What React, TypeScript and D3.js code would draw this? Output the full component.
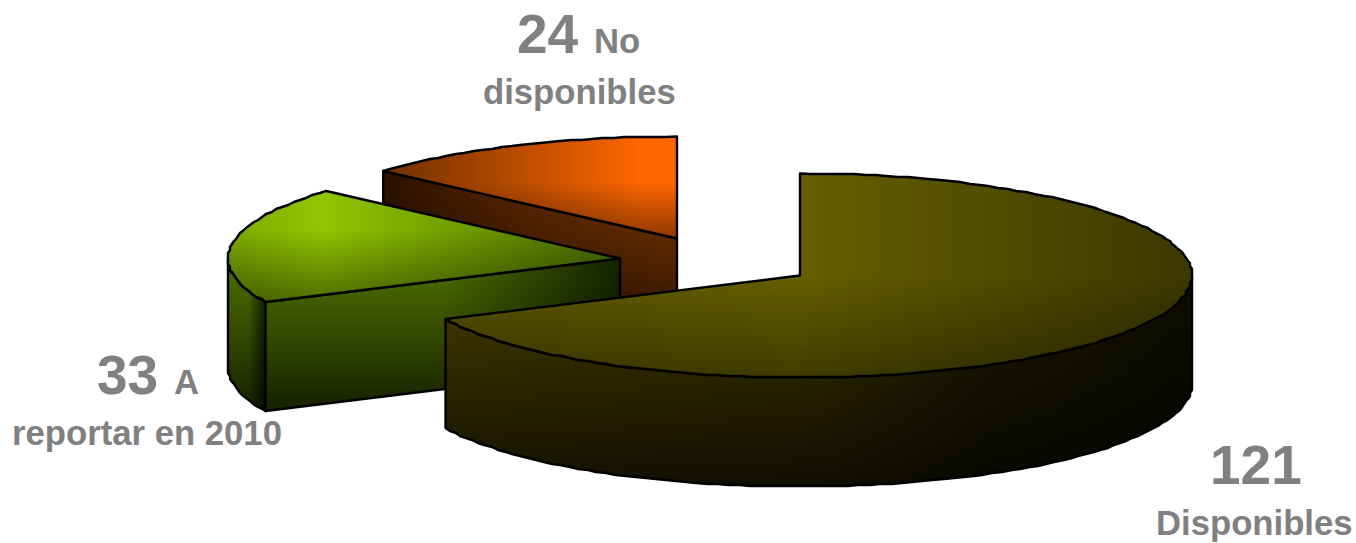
import * as d3 from 'd3';

const WIDTH = 1356;
const HEIGHT = 543;

// chart values, clockwise from 12 o'clock
const sliceNames = ['Disponibles', 'A reportar en 2010', 'No disponibles'];
const sliceValues = [121, 33, 24];

// pie geometry
const RX = 392;
const RY = 102;
const DEPTH = 109;
const sliceCenters: [number, number][] = [[800, 275.5], [620, 258.5], [677, 238.5]];

// base tones for each slice: bright, mid, shade
const topBright = ['#666000', '#90c600', '#ff6600'];
const topEdge = ['#3c3800', '#4a6c00', '#7e3800'];
const wallBright = ['#403900', '#4a6a00', '#7a3400'];
const wallEdge = ['#0e0e00', '#142200', '#2a1000'];
// where the highlight sits across each top face (0..1)
const highlightX = [0.47, 0.24, 0.88];
const shadeY = [0.5, 0.35, 0.45];

const FONT = '"Liberation Sans", Arial, sans-serif';
const GRAY = '#808080';

const pie = d3.pie<number>().sort(null).startAngle(0).endAngle(2 * Math.PI);
const arcs = pie(sliceValues);

// polygon rim, the source picture has a slightly stepped edge
const rim = (c: [number, number], a0: number, a1: number, dy = 0): [number, number][] => {
  const n = Math.max(2, Math.ceil(Math.abs(a1 - a0) / (1.6 * Math.PI / 180)));
  return d3.range(n + 1).map(i => {
    const a = a0 + ((a1 - a0) * i) / n;
    const onEnd = i === 0 || i === n;
    const x = c[0] + RX * Math.sin(a);
    const y = c[1] - RY * Math.cos(a) + dy;
    return onEnd ? [x, y] : [Math.round(x / 2) * 2, Math.round(y)];
  });
};

const line = d3.line();

function Face({ d, hFill, vFill }: { d: string; hFill: string; vFill: string }) {
  return (
    <g>
      <path d={d} fill={hFill} />
      <path d={d} fill={vFill} />
      <path d={d} fill="none" stroke="#000" strokeWidth={2.4} strokeLinejoin="round" />
    </g>
  );
}

function Slice({ i }: { i: number }) {
  const { startAngle, endAngle } = arcs[i];
  const c = sliceCenters[i];
  const top = rim(c, startAngle, endAngle);
  const topPath = line([c, ...top])! + 'Z';

  const faces: JSX.Element[] = [];
  // outer wall, only the part of the rim that faces the viewer
  const wallA0 = Math.max(startAngle, Math.PI / 2);
  const wallA1 = Math.min(endAngle, (3 * Math.PI) / 2);
  if (wallA1 > wallA0) {
    const upper = rim(c, wallA0, wallA1);
    const lower = rim(c, wallA1, wallA0, DEPTH);
    faces.push(
      <Face key="wall" d={line([...upper, ...lower])! + 'Z'} hFill={`url(#wallH${i})`} vFill={`url(#wallV${i})`} />,
    );
  }
  // cut face on the slice's leading edge, when it looks towards us
  if (startAngle > Math.PI && startAngle < 2 * Math.PI) {
    const p = rim(c, startAngle, startAngle)[0];
    const cut: [number, number][] = [c, p, [p[0], p[1] + DEPTH], [c[0], c[1] + DEPTH]];
    faces.push(
      <Face key="cut" d={line(cut)! + 'Z'} hFill={`url(#cutH${i})`} vFill={`url(#wallV${i})`} />,
    );
  }

  return (
    <g>
      {faces}
      <Face d={topPath} hFill={`url(#topH${i})`} vFill={`url(#topV${i})`} />
    </g>
  );
}

function Gradients() {
  return (
    <defs>
      {sliceNames.map((_, i) => (
        <g key={i}>
          <linearGradient id={`topH${i}`} x1="0" x2="1" y1="0" y2="0">
            <stop offset="0" stopColor={i === 2 ? '#6e3000' : d3.interpolateRgb(topEdge[i], topBright[i])(0.7)} />
            <stop offset={highlightX[i]} stopColor={topBright[i]} />
            <stop offset="1" stopColor={i === 2 ? topBright[i] : topEdge[i]} />
          </linearGradient>
          <linearGradient id={`topV${i}`} x1="0" x2="0" y1="0" y2="1">
            <stop offset={shadeY[i]} stopColor="#000" stopOpacity={0} />
            <stop offset="1" stopColor="#000" stopOpacity={i === 0 ? 0.38 : 0.45} />
          </linearGradient>
          <linearGradient id={`wallH${i}`} x1="0" x2="1" y1="0" y2="0">
            <stop offset="0" stopColor={wallBright[i]} />
            <stop offset={i === 0 ? 0.5 : 0.55} stopColor={i === 0 ? '#362f00' : wallBright[i]} />
            {i === 0 && <stop offset="0.72" stopColor="#1a1800" />}
            <stop offset="1" stopColor={i === 0 ? '#0c0c00' : wallEdge[i]} />
          </linearGradient>
          <linearGradient id={`cutH${i}`} x1="0" x2="1" y1="0" y2="0">
            <stop offset="0" stopColor={i === 2 ? wallEdge[i] : wallBright[i]} />
            <stop offset="0.5" stopColor={i === 2 ? '#5a2600' : wallBright[i]} />
            <stop offset="1" stopColor={i === 2 ? wallBright[i] : wallEdge[i]} />
          </linearGradient>
          <linearGradient id={`wallV${i}`} x1="0" x2="0" y1="0" y2="1">
            <stop offset="0.1" stopColor="#000" stopOpacity={0} />
            <stop offset="1" stopColor="#000" stopOpacity={0.7} />
          </linearGradient>
        </g>
      ))}
    </defs>
  );
}

function Label({ x, y, size, anchor = 'start', children }: any) {
  return (
    <text x={x} y={y} fontFamily={FONT} fontWeight="bold" fontSize={size} fill={GRAY} textAnchor={anchor}>
      {children}
    </text>
  );
}

export default function App() {
  return (
    <svg
      width={WIDTH}
      height={HEIGHT}
      viewBox={`0 0 ${WIDTH} ${HEIGHT}`}
      style={{ position: 'absolute', left: 0, top: 0, background: '#fff' }}
    >
      <Gradients />
      {/* back to front */}
      <Slice i={2} />
      <Slice i={1} />
      <Slice i={0} />

      <Label x={517} y={53} size={55}>{sliceValues[2]}</Label>
      <Label x={594} y={53} size={34.7}>No</Label>
      <Label x={483} y={104} size={34.7}>disponibles</Label>

      <Label x={97} y={394} size={55}>{sliceValues[1]}</Label>
      <Label x={174} y={394} size={34.7}>A</Label>
      <Label x={12} y={445} size={34.7}>reportar en 2010</Label>

      <Label x={1210} y={484} size={55}>{sliceValues[0]}</Label>
      <Label x={1156} y={535} size={34.7}>Disponibles</Label>
    </svg>
  );
}
